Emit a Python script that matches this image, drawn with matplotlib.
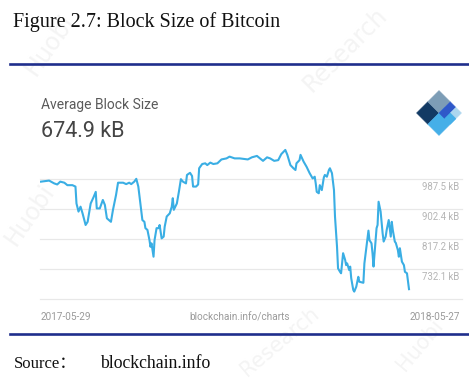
import matplotlib
matplotlib.use("Agg")
import matplotlib.pyplot as plt
from matplotlib.patches import Polygon

# ---- data ----
days = [0, 8, 13, 16, 19, 23, 26, 31, 34, 35, 37, 39, 41, 44, 46, 49, 52, 54, 55, 58,
        61, 63, 65, 67, 69, 71, 74, 76, 81, 84, 87, 89, 92, 94, 96, 98, 100, 102, 103, 105,
        107, 108, 109, 111, 112, 114, 116, 117, 119, 121, 122, 124, 127, 129, 130, 131, 134, 136, 138, 140,
        143, 144, 147, 149, 150, 153, 155, 156, 159, 162, 164, 167, 170, 174, 178, 183, 186, 191, 196, 201,
        204, 208, 213, 216, 219, 223, 226, 230, 234, 237, 241, 243, 246, 249, 251, 252, 255, 256, 259, 262,
        265, 268, 270, 271, 272, 274, 275, 277, 279, 280, 282, 284, 285, 287, 289, 290, 292, 293, 295, 296,
        298, 300, 301, 302, 304, 305, 306, 308, 309, 311, 313, 314, 318, 319, 321, 323, 324, 326, 327, 328,
        330, 331, 332, 333, 335, 337, 338, 340, 341, 343, 345, 346, 347, 349, 350, 352, 353, 354, 356, 358,
        359, 361, 363]
block_kb = [980, 983, 975, 972, 980, 977, 970, 970, 966, 918, 895, 909, 890, 857, 866, 918, 937, 951, 904, 904,
            928, 914, 876, 871, 866, 900, 942, 977, 977, 973, 977, 973, 980, 988, 966, 918, 871, 866, 848, 843,
            814, 795, 805, 767, 814, 848, 848, 857, 819, 824, 852, 881, 890, 909, 933, 900, 918, 951, 987, 980,
            975, 999, 1005, 996, 966, 966, 972, 1018, 1030, 1032, 1027, 1034, 1030, 1032, 1043, 1046, 1051, 1046, 1046, 1044,
            1043, 1049, 1053, 1046, 1039, 1049, 1046, 1039, 1041, 1058, 1070, 1056, 1027, 1018, 1013, 1032, 1041, 1056, 1037, 1022,
            1004, 989, 994, 975, 951, 947, 970, 956, 992, 999, 994, 1013, 1018, 1004, 956, 881, 795, 734, 724, 720,
            777, 758, 743, 748, 729, 739, 706, 673, 668, 682, 710, 696, 693, 748, 795, 841, 814, 805, 777, 739,
            814, 848, 857, 923, 895, 833, 810, 824, 843, 871, 824, 866, 843, 810, 806, 786, 767, 791, 753, 743,
            724, 720, 674.9]
grid_values = [647.0, 732.1, 817.2, 902.4, 987.5]
grid_labels = ["", "732.1 kB", "817.2 kB", "902.4 kB", "987.5 kB"]
start_label = "2017-05-29"
end_label = "2018-05-27"
current_value = "674.9 kB"

W, H = 469, 383
fig = plt.figure(figsize=(W / 100, H / 100), dpi=100)
fig.patch.set_facecolor("white")

def fx(x):
    return x / W

def fy(y):
    return 1 - y / H

NAVY = "#1f2e8c"
LINE = "#3aaee4"

# faint watermark
for (x, y, s, r, fs) in [(50, 45, "Huobi", 55, 17), (345, 50, "Research", 45, 17),
                         (30, 215, "Huobi", 55, 17), (280, 342, "Research", 40, 15),
                         (420, 345, "Huobi", 50, 15)]:
    fig.text(fx(x), fy(y), s, fontsize=fs, color="#f4f4f4", rotation=r,
             ha="center", va="center", family="DejaVu Sans", zorder=0)

# title
fig.text(fx(13), fy(26.7), "Figure 2.7: Block Size of Bitcoin", fontsize=14.5,
         family="Liberation Serif", color="#111111", va="baseline", ha="left")
fig.add_artist(plt.Line2D([fx(10), 1.0], [fy(63.5), fy(63.5)], color=NAVY, lw=1.9,
                          transform=fig.transFigure))
fig.add_artist(plt.Line2D([fx(10), 1.0], [fy(334), fy(334)], color=NAVY, lw=1.9,
                          transform=fig.transFigure))
fig.text(fx(14), fy(367.7), "Source：", fontsize=12,
         family=["Liberation Serif", "Noto Sans CJK SC"], color="#111111",
         va="baseline", ha="left")
fig.text(fx(100), fy(367.7), "blockchain.info", fontsize=12.8,
         family="Liberation Serif", color="#111111", va="baseline", ha="left")

# chart header
fig.text(fx(41), fy(109.3), "Average Block Size", fontsize=10, family="Roboto",
         color="#5a5a5a", va="baseline", ha="left")
fig.text(fx(40.5), fy(137.3), current_value, fontsize=15.5, family="Roboto",
         color="#444444", va="baseline", ha="left")

# logo
L = (416.5, 113.0); T = (439.0, 90.5); B = (439.0, 135.5)
def P(u, v):
    x = L[0] + u * (T[0] - L[0]) + v * (B[0] - L[0])
    y = L[1] + u * (T[1] - L[1]) + v * (B[1] - L[1])
    return (fx(x), fy(y))
def quad(u0, u1, v0, v1, c):
    fig.add_artist(Polygon([P(u0, v0), P(u1, v0), P(u1, v1), P(u0, v1)], closed=True,
                           facecolor=c, edgecolor=c, lw=0.3, transform=fig.transFigure))
quad(0, 0.5, 0, 0.5, "#123a64")
quad(0.5, 1, 0, 0.5, "#7d9db6")
quad(0, 0.75, 0.5, 1, "#45afe8")
quad(0.5, 1, 0.5, 0.75, "#2f58c9")
quad(0.75, 1, 0.75, 1, "#acd6ef")
quad(0.5, 0.75, 0.75, 1, "#45afe8")

# axes
ax = fig.add_axes([fx(40), fy(299), (462 - 40) / W, (299 - 145) / H])
ax.set_facecolor("none")
px_per_day = 368 / 363
ax.set_xlim(-1 / px_per_day, (462 - 41) / px_per_day)
kb_per_px = 85.125 / 30
ax.set_ylim(647.0, 647.0 + 154 * kb_per_px)
for s in ax.spines.values():
    s.set_visible(False)
ax.set_xticks([])
ax.set_yticks([])
for v, lab in zip(grid_values, grid_labels):
    ax.axhline(v, color="#e8e8e8", lw=0.9, zorder=1, clip_on=False)
    if lab:
        ax.annotate(lab, xy=(0.993, v), xycoords=ax.get_yaxis_transform(),
                    xytext=(0, -2.3), textcoords="offset points", ha="right", va="top",
                    fontsize=6.9, family="Roboto", color="#b5b5b5")
ax.plot(days, block_kb, color=LINE, lw=1.5, zorder=3, solid_joinstyle="round")

# bottom labels
fig.text(fx(40.5), fy(317.5), start_label, fontsize=7.2, family="Roboto", color="#9a9a9a",
         ha="left", va="center")
fig.text(fx(240), fy(317.5), "blockchain.info/charts", fontsize=7.2, family="Roboto",
         color="#9a9a9a", ha="center", va="center")
fig.text(fx(460), fy(317.5), end_label, fontsize=7.2, family="Roboto", color="#9a9a9a",
         ha="right", va="center")

fig.savefig("out.png", dpi=100, facecolor="white")
